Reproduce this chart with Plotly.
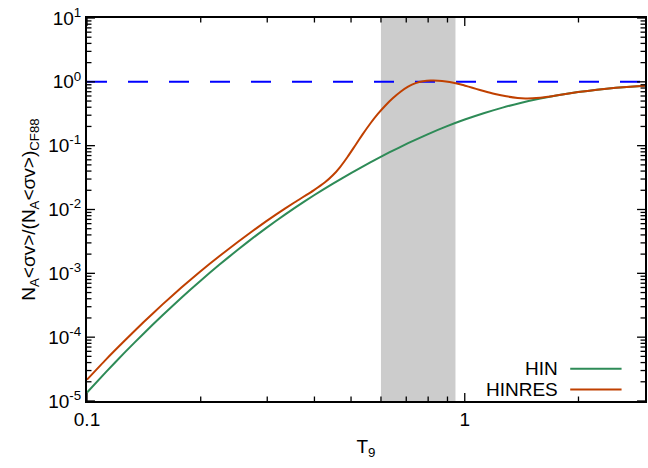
import math
import plotly.graph_objects as go

# ---- data ----
# HIN (green)
hin_t9 = [0.1, 0.1122, 0.1259, 0.1413, 0.1585, 0.1778, 0.1995, 0.2239, 0.2512,
          0.2818, 0.3162, 0.3548, 0.3981, 0.4467, 0.5012, 0.5623, 0.631, 0.7079,
          0.7943, 0.8913, 1.0, 1.122, 1.259, 1.413, 1.585, 1.778, 1.995, 2.239,
          2.512, 3.0]
hin = [1.361e-5, 2.84e-5, 5.77e-5, 1.144e-4, 2.208e-4, 4.153e-4, 7.61e-4, 1.36e-3,
       2.366e-3, 4.009e-3, 6.61e-3, 1.06e-2, 1.656e-2, 2.522e-2, 3.759e-2,
       5.484e-2, 7.83e-2, 0.1094, 0.1493, 0.1985, 0.2564, 0.3224, 0.3949,
       0.4714, 0.5483, 0.6223, 0.6909, 0.7505, 0.805, 0.8693]

# HINRES (dark orange)
hinres_t9 = [0.1, 0.1122, 0.1259, 0.1413, 0.1585, 0.1778, 0.1995, 0.2239, 0.2512,
             0.2818, 0.3162, 0.3548, 0.3981, 0.4266, 0.4467, 0.4677, 0.4898,
             0.5129, 0.537, 0.5623, 0.5888, 0.6166, 0.6457, 0.6761, 0.7079,
             0.7413, 0.7762, 0.8128, 0.8511, 0.8913, 0.9333, 0.9772, 1.0233,
             1.0715, 1.122, 1.2023, 1.2882, 1.3804, 1.4454, 1.5136, 1.5849,
             1.6596, 1.7783, 1.9953, 2.2387, 2.5119, 3.0]
hinres = [2.158e-5, 4.45e-5, 8.84e-5, 1.723e-4, 3.266e-4, 6.00e-4, 1.07e-3, 1.855e-3,
          3.12e-3, 5.16e-3, 8.32e-3, 1.30e-2, 1.995e-2, 2.667e-2, 3.40e-2,
          4.63e-2, 6.71e-2, 0.1007, 0.1514, 0.2223, 0.3141, 0.4256, 0.5559,
          0.6982, 0.8395, 0.9528, 1.019, 1.045, 1.042, 1.016, 0.9694, 0.9078,
          0.8406, 0.7755, 0.717, 0.6452, 0.5927, 0.5598, 0.5502, 0.5521, 0.5637,
          0.5821, 0.6237, 0.6909, 0.7505, 0.805, 0.8693]

ref_x = [0.1, 3.0]
ref_y = [1.0, 1.0]

band = [0.6, 0.945]

x_range = [0.1, 3.0]
y_range = [1e-5, 10]
x_ticks = [0.1, 1]
x_ticktext = ["0.1", "1"]
x_minor = [0.2, 0.3, 0.4, 0.5, 0.6, 0.7, 0.8, 0.9, 2]
y_ticks = [1e-5, 1e-4, 1e-3, 1e-2, 1e-1, 1, 10]
y_ticktext = ["10<sup>-5</sup>", "10<sup>-4</sup>", "10<sup>-3</sup>", "10<sup>-2</sup>",
              "10<sup>-1</sup>", "10<sup>0</sup>", "10<sup>1</sup>"]
y_minor = [m * d for d in y_ticks[:-1] for m in range(2, 10)]

names = ["HIN", "HINRES"]
colors = ["#2e8b57", "#c04000"]

FONT = "Liberation Sans, Arial, sans-serif"

W, H = 648, 468
M_L, M_R, M_T, M_B = 87, 1, 18, 67
PW, PH = W - M_L - M_R, H - M_T - M_B

x_log_range = [math.log10(v) for v in x_range]
y_log_range = [math.log10(v) for v in y_range]
px_per_dec_x = PW / (x_log_range[1] - x_log_range[0])
px_per_dec_y = PH / (y_log_range[1] - y_log_range[0])

fig = go.Figure()

fig.add_shape(type="rect", xref="x", yref="paper", x0=band[0], x1=band[1],
              y0=0, y1=1, fillcolor="#cccccc", line=dict(width=0), layer="below")

fig.add_trace(go.Scatter(x=ref_x, y=ref_y, mode="lines",
                         line=dict(color="#0000ff", width=2, dash="20px,21px"),
                         showlegend=False, hoverinfo="skip"))

for name, xs, ys, col in zip(names, [hin_t9, hinres_t9], [hin, hinres], colors):
    fig.add_trace(go.Scatter(x=xs, y=ys, mode="lines", name=name,
                             line=dict(color=col, width=2, shape="spline", smoothing=0.5),
                             showlegend=False))

# gnuplot-style legend: text right-aligned, sample line to the right
leg_y = [0.084, 0.030]
for name, col, ly in zip(names, colors, leg_y):
    fig.add_annotation(x=0.848, y=ly, xref="paper", yref="paper", text=name,
                       showarrow=False, xanchor="right", yanchor="middle",
                       font=dict(family=FONT, size=19, color="black"))
    fig.add_shape(type="line", xref="paper", yref="paper",
                  x0=0.866, x1=0.958, y0=ly, y1=ly,
                  line=dict(color=col, width=2))

# inward, mirrored tick marks (gnuplot style) drawn as one line trace
MAJ, MIN = 8, 4.5
tx, ty = [], []
y_lo, y_hi = y_range
x_lo, x_hi = x_range
for vals, ln in ((x_ticks, MAJ), (x_minor, MIN)):
    fy = 10 ** (ln / px_per_dec_y)
    for v in vals:
        tx += [v, v, None, v, v, None]
        ty += [y_lo, y_lo * fy, None, y_hi, y_hi / fy, None]
for vals, ln in ((y_ticks, MAJ), (y_minor, MIN)):
    fx = 10 ** (ln / px_per_dec_x)
    for v in vals:
        tx += [x_lo, x_lo * fx, None, x_hi, x_hi / fx, None]
        ty += [v, v, None, v, v, None]
fig.add_trace(go.Scatter(x=tx, y=ty, mode="lines", line=dict(color="black", width=1.3),
                         showlegend=False, hoverinfo="skip", connectgaps=False,
                         cliponaxis=False))

fig.update_layout(
    width=W, height=H,
    margin=dict(l=M_L, r=M_R, t=M_T, b=M_B),
    paper_bgcolor="white", plot_bgcolor="white",
    font=dict(family=FONT, size=19, color="black"),
    xaxis=dict(type="log", range=x_log_range, showgrid=False, zeroline=False,
               showline=True, linecolor="black", linewidth=2, mirror=True,
               ticks="", tickvals=x_ticks, ticktext=x_ticktext,
               tickfont=dict(family=FONT, size=19, color="black"),
               title=dict(text="T<sub>9</sub>", font=dict(family=FONT, size=19), standoff=11)),
    yaxis=dict(type="log", range=y_log_range, showgrid=False, zeroline=False,
               showline=True, linecolor="black", linewidth=2, mirror=True,
               ticks="", tickvals=y_ticks, ticktext=y_ticktext,
               tickfont=dict(family=FONT, size=19, color="black"),
               title=dict(text="N<sub>A</sub>&lt;σv&gt;/(N<sub>A</sub>&lt;σv&gt;)<sub>CF88</sub>",
                          font=dict(family=FONT, size=19), standoff=8)),
    showlegend=False,
)

fig.write_html("out.html")
